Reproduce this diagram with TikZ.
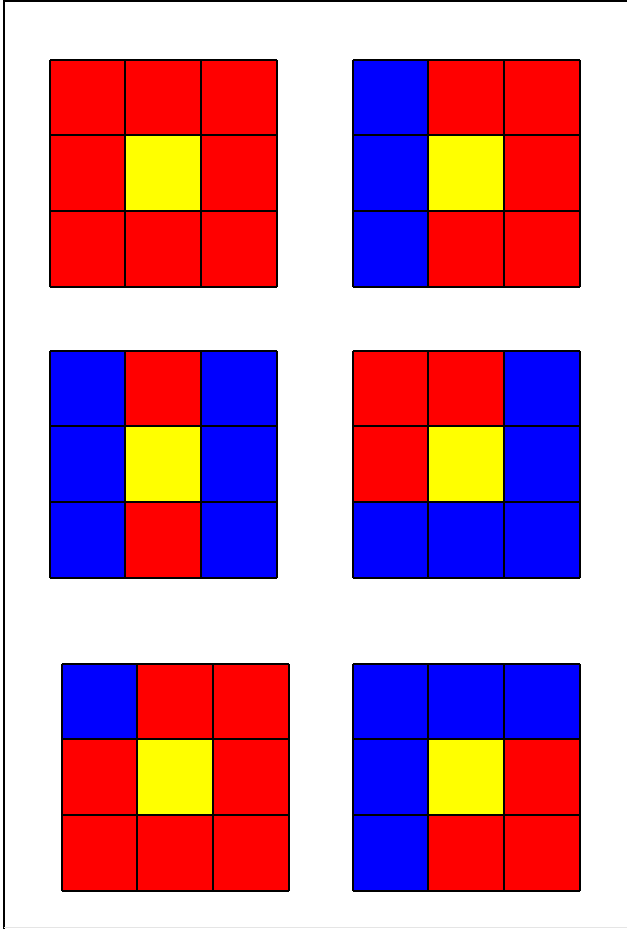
\documentclass[tikz,border=0pt]{standalone}
\usepackage{tikz}
\definecolor{tred}{RGB}{255,0,0}
\definecolor{tblue}{RGB}{0,0,255}
\definecolor{tyel}{RGB}{255,255,0}
\tikzset{
  celllin/.style = {draw=black,line width=2bp},
  framelin/.style = {black,line width=2bp}
}
% #1,#2: top left corner, #3: colours row by row
\newcommand{\tilegrid}[3]{%
  \foreach \c [count=\i from 0] in {#3} {
    \pgfmathtruncatemacro\row{\i/3}
    \pgfmathtruncatemacro\col{mod(\i,3)}
    \fill[\c] (#1+\col*75.7,#2+\row*75.7) rectangle ++(75.7,75.7);
  }
  \foreach \k in {0,75,151,227} {
    \draw[celllin] (#1+\k,#2) -- ++(0,227);
    \draw[celllin] (#1,#2+\k) -- ++(227,0);
  }
}
\begin{document}
\begin{tikzpicture}[x=1bp,y=-1bp]
  \useasboundingbox (0,0) rectangle (627,929);
  \draw[framelin] (4,929) -- (4,1) -- (627,1);
  \draw[gray!20] (4,927.5) -- (627,927.5);
  \tilegrid{50}{60}{tred,tred,tred,tred,tyel,tred,tred,tred,tred}
  \tilegrid{353}{60}{tblue,tred,tred,tblue,tyel,tred,tblue,tred,tred}
  \tilegrid{50}{351}{tblue,tred,tblue,tblue,tyel,tblue,tblue,tred,tblue}
  \tilegrid{353}{351}{tred,tred,tblue,tred,tyel,tblue,tblue,tblue,tblue}
  \tilegrid{62}{664}{tblue,tred,tred,tred,tyel,tred,tred,tred,tred}
  \tilegrid{353}{664}{tblue,tblue,tblue,tblue,tyel,tred,tblue,tred,tred}
\end{tikzpicture}
\end{document}
